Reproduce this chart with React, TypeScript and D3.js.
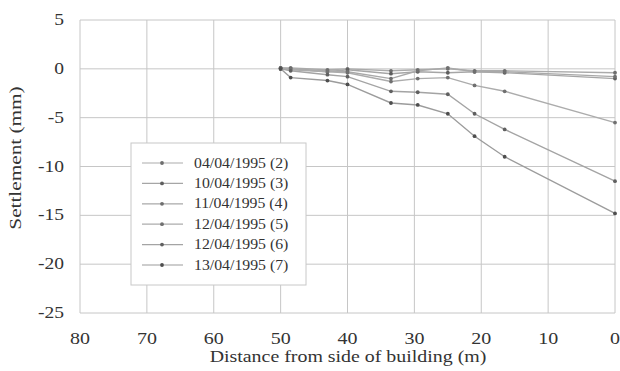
import React from "react";
import * as d3 from "d3";

const distances = [50, 48.5, 43, 40, 33.5, 29.5, 25, 21, 16.5, 0];
const seriesNames = [
  "04/04/1995 (2)",
  "10/04/1995 (3)",
  "11/04/1995 (4)",
  "12/04/1995 (5)",
  "12/04/1995 (6)",
  "13/04/1995 (7)",
];
const s2 = [0.1, 0.1, -0.1, 0, -0.2, -0.1, 0, -0.2, -0.2, -0.4];
const s3 = [0.1, 0, -0.3, -0.1, -0.5, -0.3, -0.4, -0.3, -0.4, -1.0];
const s4 = [0, 0, -0.2, -0.3, -1.0, -0.2, 0.1, -0.3, -0.3, -0.8];
const s5 = [0, -0.1, -0.3, -0.4, -1.3, -1.0, -0.9, -1.7, -2.3, -5.5];
const s6 = [0, -0.2, -0.6, -0.8, -2.3, -2.4, -2.6, -4.6, -6.2, -11.5];
const s7 = [0, -0.9, -1.2, -1.6, -3.5, -3.7, -4.6, -6.9, -9.0, -14.8];
const seriesValues = [s2, s3, s4, s5, s6, s7];
const xTicks = [80, 70, 60, 50, 40, 30, 20, 10, 0];
const yTicks = [5, 0, -5, -10, -15, -20, -25];

const lineColors = ["#ababab", "#a6a6a6", "#a9a9a9", "#acacac", "#a4a4a4", "#9c9c9c"];
const markerColors = ["#6e6e6e", "#5e5e5e", "#6e6e6e", "#707070", "#606060", "#4e4e4e"];

const FONT = "'Liberation Serif', 'Times New Roman', serif";
const TEXT = "#333";

function T(props: {
  x: number;
  y: number;
  size: number;
  sx?: number;
  anchor?: "start" | "middle" | "end";
  rotate?: number;
  children: React.ReactNode;
}) {
  const { x, y, size, sx = 1, anchor = "start", rotate = 0, children } = props;
  return (
    <text
      transform={`translate(${x},${y}) rotate(${rotate}) scale(${sx},1)`}
      textAnchor={anchor}
      fontFamily={FONT}
      fontSize={size}
      fill={TEXT}
    >
      {children}
    </text>
  );
}

export default function App() {
  const W = 620, H = 371;
  const left = 80, right = 615, top = 20, bottom = 313;
  const x = d3.scaleLinear().domain([80, 0]).range([left, right]);
  const y = d3.scaleLinear().domain([5, -25]).range([top, bottom]);
  const line = d3
    .line<[number, number]>()
    .x((d) => x(d[0]))
    .y((d) => y(d[1]));
  const legend = { x: 131, y: 143, w: 175, h: 142 };
  return (
    <svg width={W} height={H} style={{ position: "absolute", left: 0, top: 0, background: "#fff" }}>
      <rect x={0} y={0} width={W} height={H} fill="#fff" />
      {yTicks.map((t) => (
        <line key={"gy" + t} x1={left} x2={right} y1={y(t)} y2={y(t)} stroke="#c6c6c6" strokeWidth={1} />
      ))}
      {xTicks.map((t) => (
        <line key={"gx" + t} x1={x(t)} x2={x(t)} y1={top} y2={bottom} stroke="#c6c6c6" strokeWidth={1} />
      ))}
      {seriesValues.map((vals, i) => {
        const pts = distances.map((d, j) => [d, vals[j]] as [number, number]);
        return (
          <g key={"s" + i}>
            <path d={line(pts) || ""} fill="none" stroke={lineColors[i]} strokeWidth={1.4} />
            {pts.map((p, j) => (
              <circle key={j} cx={x(p[0])} cy={y(p[1])} r={1.9} fill={markerColors[i]} />
            ))}
          </g>
        );
      })}
      {yTicks.map((t) => (
        <T key={"ty" + t} x={64} y={y(t) + 5} size={16} sx={1.22} anchor="end">
          {t}
        </T>
      ))}
      {xTicks.map((t) => (
        <T key={"tx" + t} x={x(t)} y={344} size={16} sx={1.25} anchor="middle">
          {t}
        </T>
      ))}
      <T x={348} y={362} size={17} sx={1.17} anchor="middle">
        Distance from side of building (m)
      </T>
      <T x={21} y={158} size={17} sx={1.25} anchor="middle" rotate={-90}>
        Settlement (mm)
      </T>
      <rect x={legend.x} y={legend.y} width={legend.w} height={legend.h} fill="#fff" stroke="#c8c8c8" strokeWidth={1} />
      {seriesNames.map((name, i) => {
        const ry = 163 + i * 20.4;
        return (
          <g key={"l" + i}>
            <line x1={142} x2={183} y1={ry} y2={ry} stroke={lineColors[i]} strokeWidth={1.2} />
            <circle cx={162} cy={ry} r={1.9} fill={markerColors[i]} />
            <T x={194} y={ry + 4.5} size={14} sx={1.13}>
              {name}
            </T>
          </g>
        );
      })}
    </svg>
  );
}
